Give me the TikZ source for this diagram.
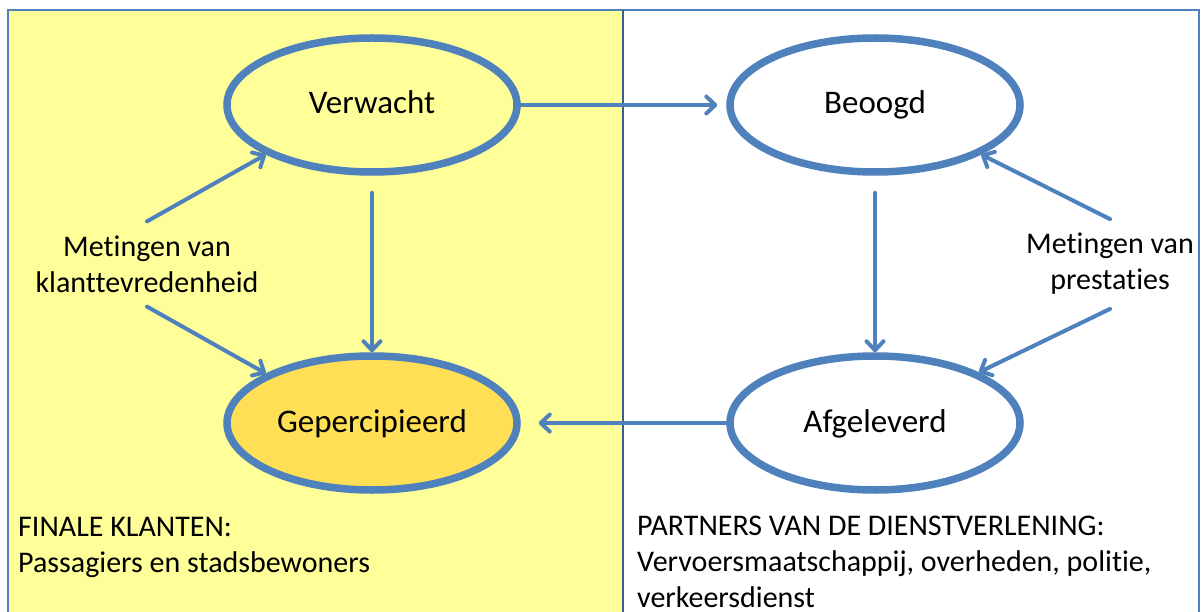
\documentclass[tikz,border=0pt]{standalone}
\usepackage{fontspec}
\setmainfont{Carlito}[Ligatures=NoCommon]
\usetikzlibrary{shapes.geometric,arrows.meta}

\definecolor{paleyellow}{HTML}{FFFF99}
\definecolor{gold}{HTML}{FFDF55}
\definecolor{ringblue}{HTML}{4F81BD}
\definecolor{divblue}{HTML}{3A5F8C}

\tikzset{
  stage/.style={ellipse, draw=ringblue, line width=7.5pt, minimum width=290pt,
    minimum height=134pt, inner sep=0pt, font=\fontsize{33}{40}\selectfont,
    text height=23pt, text depth=5pt},
  flow/.style={draw=ringblue, line width=4pt, line cap=round,
    -{Straight Barb[length=9pt,width=17pt,line cap=round,line join=round]}},
  measure/.style={align=center, font=\fontsize{30}{36}\selectfont,
    inner xsep=0pt, inner ysep=14pt},
  party/.style={align=left, anchor=north west, inner sep=0pt,
    font=\fontsize{30}{36}\selectfont}
}

\begin{document}
\begin{tikzpicture}[x=1pt,y=-1pt]
  \useasboundingbox (0,0) rectangle (1201,612);
  \fill[white] (0,0) rectangle (1201,612);

  % customer side background and frame
  \fill[paleyellow] (8,10) rectangle (623,612);
  \draw[ringblue, line width=1.5pt] (8,612) -- (8,10) -- (1199,10) -- (1199,612);
  \draw[divblue, line width=2.5pt] (623,10) -- (623,612);

  % the four quality stages
  \node[stage] (verw) at (372,105) {Verwacht};
  \node[stage] (beo) at (875,105) {Beoogd};
  \node[stage, fill=gold] (gep) at (372,423) {Gepercipieerd};
  \node[stage] (afg) at (875,423) {Afgeleverd};

  % measurement labels
  \node[measure] (msL) at (147,264) {Metingen van\\klanttevredenheid};
  \node[measure] (msR) at (1110,264) {Metingen van\\prestaties};

  % side captions
  \node[party] (capL) at (18,517) {FINALE KLANTEN:\\Passagiers en stadsbewoners};
  \node[party] (capR) at (637,516) {PARTNERS VAN DE DIENSTVERLENING:\\Vervoersmaatschappij, overheden,\ politie,\\verkeersdienst};

  % connectors between stages
  \draw[flow, shorten >=9pt] (verw.east) -- (beo.west);
  \draw[flow] ([yshift=-17pt]verw.south) -- (gep.north);
  \draw[flow] ([yshift=-17pt]beo.south) -- (afg.north);
  \draw[flow, shorten >=18pt] (afg.west) -- (gep.east);

  % connectors from the measurement labels
  \draw[flow] (msL.north) -- (verw.205);
  \draw[flow] (msL.south) -- (gep.155);
  \draw[flow] (msR.north) -- (beo.335);
  \draw[flow] (msR.south) -- (afg.26);
\end{tikzpicture}
\end{document}
